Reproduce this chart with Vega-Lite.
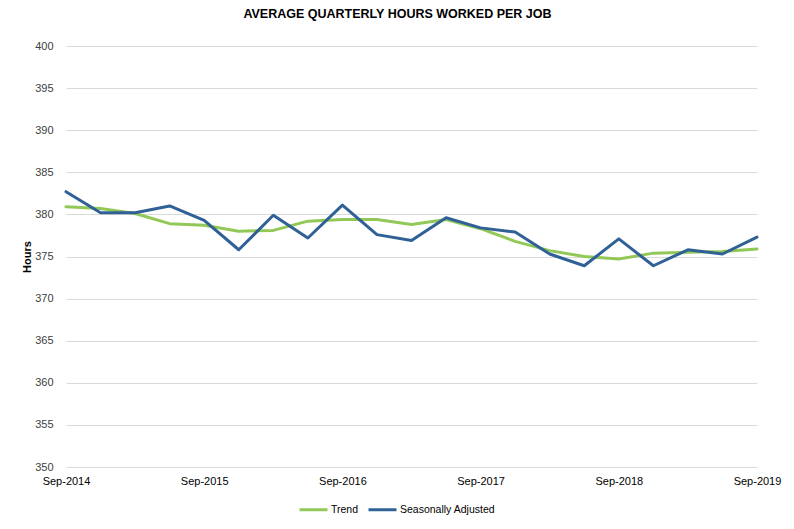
{
  "$schema": "https://vega.github.io/schema/vega-lite/v6.json",
  "width": 691,
  "height": 421,
  "autosize": {"type": "none"},
  "padding": {"left": 66, "top": 46, "right": 37, "bottom": 62},
  "background": "white",
  "config": {"view": {"stroke": null}, "font": "Liberation Sans"},
  "title": {"text": "AVERAGE QUARTERLY HOURS WORKED PER JOB", "fontSize": 12.5, "fontWeight": "bold", "color": "#000000", "anchor": "middle", "offset": 20, "dx": -14, "font": "Liberation Sans"},
  "data": {"values": [
    {"q": "Sep-2014", "series": "Trend", "hours": 380.9},
    {"q": "Dec-2014", "series": "Trend", "hours": 380.7},
    {"q": "Mar-2015", "series": "Trend", "hours": 380.1},
    {"q": "Jun-2015", "series": "Trend", "hours": 378.9},
    {"q": "Sep-2015", "series": "Trend", "hours": 378.7},
    {"q": "Dec-2015", "series": "Trend", "hours": 378.0},
    {"q": "Mar-2016", "series": "Trend", "hours": 378.1},
    {"q": "Jun-2016", "series": "Trend", "hours": 379.2},
    {"q": "Sep-2016", "series": "Trend", "hours": 379.4},
    {"q": "Dec-2016", "series": "Trend", "hours": 379.4},
    {"q": "Mar-2017", "series": "Trend", "hours": 378.8},
    {"q": "Jun-2017", "series": "Trend", "hours": 379.4},
    {"q": "Sep-2017", "series": "Trend", "hours": 378.3},
    {"q": "Dec-2017", "series": "Trend", "hours": 376.8},
    {"q": "Mar-2018", "series": "Trend", "hours": 375.7},
    {"q": "Jun-2018", "series": "Trend", "hours": 375.0},
    {"q": "Sep-2018", "series": "Trend", "hours": 374.7},
    {"q": "Dec-2018", "series": "Trend", "hours": 375.4},
    {"q": "Mar-2019", "series": "Trend", "hours": 375.5},
    {"q": "Jun-2019", "series": "Trend", "hours": 375.6},
    {"q": "Sep-2019", "series": "Trend", "hours": 375.9},
    {"q": "Sep-2014", "series": "Seasonally Adjusted", "hours": 382.7},
    {"q": "Dec-2014", "series": "Seasonally Adjusted", "hours": 380.2},
    {"q": "Mar-2015", "series": "Seasonally Adjusted", "hours": 380.2},
    {"q": "Jun-2015", "series": "Seasonally Adjusted", "hours": 381.0},
    {"q": "Sep-2015", "series": "Seasonally Adjusted", "hours": 379.3},
    {"q": "Dec-2015", "series": "Seasonally Adjusted", "hours": 375.8},
    {"q": "Mar-2016", "series": "Seasonally Adjusted", "hours": 379.9},
    {"q": "Jun-2016", "series": "Seasonally Adjusted", "hours": 377.2},
    {"q": "Sep-2016", "series": "Seasonally Adjusted", "hours": 381.1},
    {"q": "Dec-2016", "series": "Seasonally Adjusted", "hours": 377.6},
    {"q": "Mar-2017", "series": "Seasonally Adjusted", "hours": 376.9},
    {"q": "Jun-2017", "series": "Seasonally Adjusted", "hours": 379.6},
    {"q": "Sep-2017", "series": "Seasonally Adjusted", "hours": 378.4},
    {"q": "Dec-2017", "series": "Seasonally Adjusted", "hours": 377.9},
    {"q": "Mar-2018", "series": "Seasonally Adjusted", "hours": 375.3},
    {"q": "Jun-2018", "series": "Seasonally Adjusted", "hours": 373.9},
    {"q": "Sep-2018", "series": "Seasonally Adjusted", "hours": 377.1},
    {"q": "Dec-2018", "series": "Seasonally Adjusted", "hours": 373.9},
    {"q": "Mar-2019", "series": "Seasonally Adjusted", "hours": 375.8},
    {"q": "Jun-2019", "series": "Seasonally Adjusted", "hours": 375.3},
    {"q": "Sep-2019", "series": "Seasonally Adjusted", "hours": 377.3}
  ]},
  "mark": {"type": "line", "strokeWidth": 3, "strokeCap": "round", "strokeJoin": "round"},
  "encoding": {
    "x": {
      "field": "q", "type": "ordinal", "sort": null,
      "scale": {"type": "point", "padding": 0},
      "axis": {
        "title": null, "domain": false, "ticks": false, "grid": false,
        "labelAngle": 0, "labelPadding": 8, "labelFontSize": 11, "labelColor": "#000000",
        "labelExpr": "indexof(datum.label, 'Sep') == 0 ? datum.label : ''",
        "labelOverlap": false
      }
    },
    "y": {
      "field": "hours", "type": "quantitative",
      "scale": {"domain": [350, 400], "zero": false, "nice": false},
      "axis": {
        "title": "Hours", "titleFontSize": 11, "titleFontWeight": "bold", "titleColor": "#000000", "titlePadding": 2,
        "values": [350, 355, 360, 365, 370, 375, 380, 385, 390, 395, 400],
        "domain": false, "ticks": false, "grid": true, "gridColor": "#D9D9D9", "gridWidth": 1,
        "labelPadding": 13, "labelFontSize": 11, "labelColor": "#404040"
      }
    },
    "color": {
      "field": "series", "type": "nominal",
      "scale": {"domain": ["Trend", "Seasonally Adjusted"], "range": ["#92C857", "#2F6096"]},
      "legend": {
        "title": null, "orient": "none", "direction": "horizontal", "legendX": 232, "legendY": 448,
        "symbolType": "stroke", "symbolSize": 784, "symbolStrokeWidth": 3,
        "labelFontSize": 10.5, "labelColor": "#000000", "columnPadding": 3, "labelOffset": 2
      }
    }
  }
}
